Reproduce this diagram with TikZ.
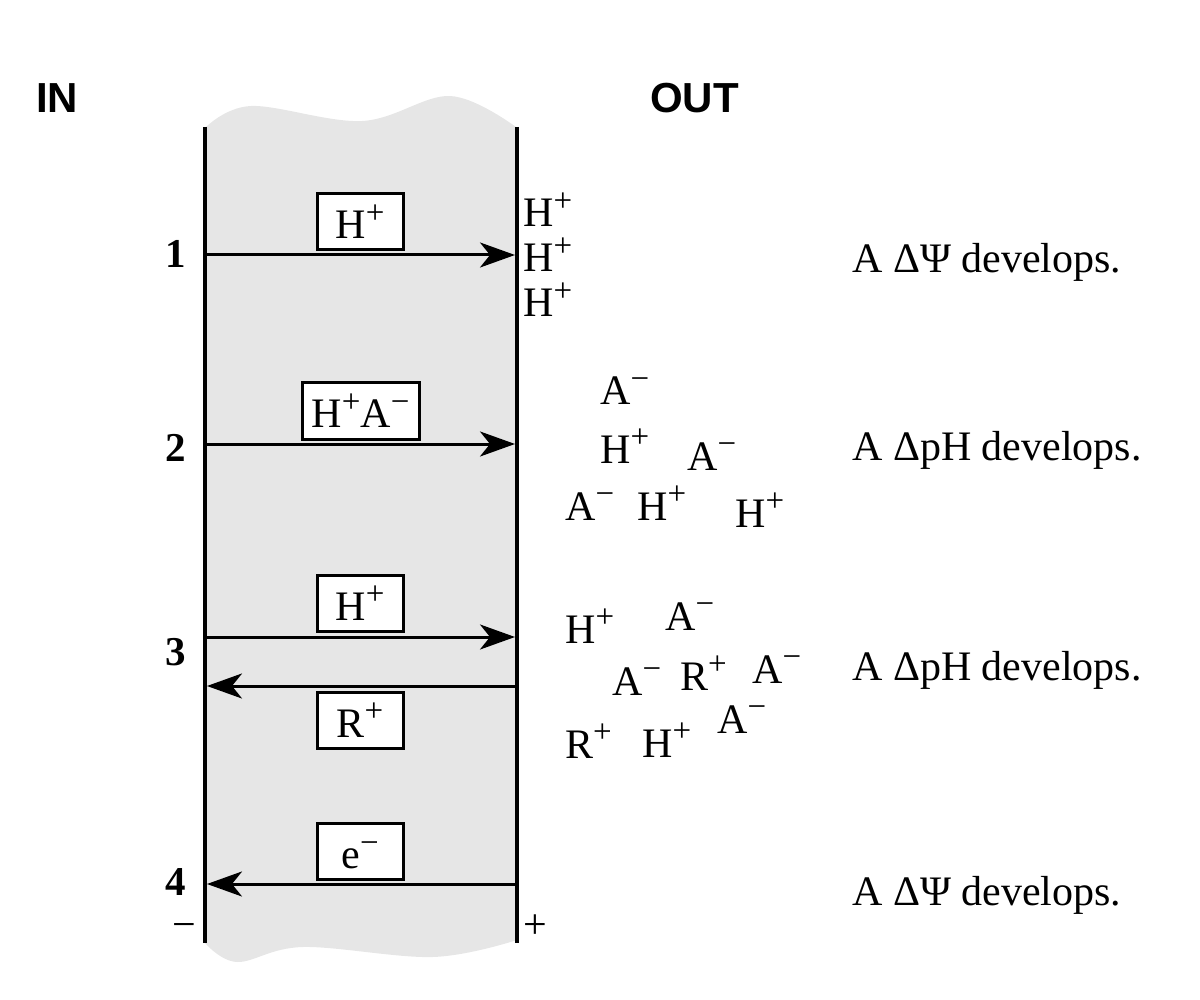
\documentclass[tikz,border=0pt]{standalone}
\usepackage{fontspec}
\setmainfont{Liberation Serif}
\newfontfamily\sanshead{Liberation Sans}
\usetikzlibrary{arrows.meta}
\newcommand\upc[1]{\raisebox{0.36em}{\fontsize{33}{33}\selectfont #1}}
\definecolor{membfill}{HTML}{E6E6E6}
\tikzset{
  txt/.style={font=\fontsize{42}{48}\selectfont, inner sep=0pt},
  num/.style={font=\fontsize{41}{48}\selectfont\bfseries, inner sep=0pt, anchor=base east},
  head/.style={font=\fontsize{42}{48}\selectfont\sanshead\bfseries, inner sep=0pt, anchor=base west},
  ion/.style={txt, anchor=base west},
  note/.style={txt, anchor=base west},
  ionbox/.style={draw, line width=3pt, fill=white, minimum width=86pt, minimum height=56pt,
    text height=34pt, text depth=0pt, inner sep=0pt, font=\fontsize{42}{48}\selectfont},
  memb/.style={line width=4pt},
  flow/.style={line width=3pt, -{Stealth[length=35pt,width=25pt,inset=10pt]}},
}
\begin{document}
\begin{tikzpicture}[x=1pt,y=-1pt]
\useasboundingbox (0,0) rectangle (1200,1000);
% membrane fill
\fill[membfill] plot[smooth, tension=0.6] coordinates {(205,128) (251,106) (362,121) (450,96) (516,127)}
  -- (517,940)
  -- plot[smooth, tension=0.6] coordinates {(517,940) (433,957) (303,947) (237,962) (205,943)} -- cycle;
% membrane lines
\coordinate (Ltop) at (205,127);
\coordinate (Lbot) at (205,943);
\coordinate (Rtop) at (517,127);
\coordinate (Rbot) at (517,943);
\draw[memb] (Ltop) -- (Lbot);
\draw[memb] (Rtop) -- (Rbot);
% headings
\node[head] (in) at (36,113) {IN};
\node[head] (out) at (650,113) {OUT};
% row numbers
\node[num] (n1) at (186,268) {1};
\node[num] (n2) at (186,461) {2};
\node[num] (n3) at (186,665) {3};
\node[num] (n4) at (186,895) {4};
\node[txt, anchor=base east] (minus) at (196,938) {−};
\node[txt, anchor=base west] (plus) at (523,938) {+};
% arrow coordinates
\coordinate (a1s) at (205,255); \coordinate (a1e) at (515,255);
\coordinate (a2s) at (205,444); \coordinate (a2e) at (515,444);
\coordinate (a3s) at (205,637); \coordinate (a3e) at (515,637);
\coordinate (a4s) at (517,686); \coordinate (a4e) at (207,686);
\coordinate (a5s) at (517,884); \coordinate (a5e) at (207,884);
\draw[flow] (a1s) -- (a1e);
\draw[flow] (a2s) -- (a2e);
\draw[flow] (a3s) -- (a3e);
\draw[flow] (a4s) -- (a4e);
\draw[flow] (a5s) -- (a5e);
% boxes
\node[ionbox] (b1) at (360,221.5) {H\upc{+}};
\node[ionbox, minimum width=117pt] (b2) at (360.5,411) {H\upc{+}A\upc{−}};
\node[ionbox] (b3) at (360,603) {H\upc{+}};
\node[ionbox] (b4) at (360,720) {R\upc{+}};
\node[ionbox] (b5) at (360,851.5) {e\upc{−}};
% ions row 1
\node[ion] (s1) at (523,227) {H\upc{+}};
\node[ion] (s2) at (523,272) {H\upc{+}};
\node[ion] (s3) at (523,317) {H\upc{+}};
% ions row 2
\node[ion] (p1) at (600,405) {A\upc{−}};
\node[ion] (p2) at (600,463) {H\upc{+}};
\node[ion] (p3) at (687,470) {A\upc{−}};
\node[ion] (p4) at (565,520) {A\upc{−}};
\node[ion] (p5) at (637,520) {H\upc{+}};
\node[ion] (p6) at (735,527) {H\upc{+}};
% ions row 3
\node[ion] (q1) at (565,643) {H\upc{+}};
\node[ion] (q2) at (665,630) {A\upc{−}};
\node[ion] (q3) at (612,695) {A\upc{−}};
\node[ion] (q4) at (680,690) {R\upc{+}};
\node[ion] (q5) at (752,683) {A\upc{−}};
\node[ion] (q6) at (717,733) {A\upc{−}};
\node[ion] (q7) at (565,758) {R\upc{+}};
\node[ion] (q8) at (642,757) {H\upc{+}};
% notes
\node[note] (t1) at (852,273) {A ΔΨ develops.};
\node[note] (t2) at (852,460) {A ΔpH develops.};
\node[note] (t3) at (852,680) {A ΔpH develops.};
\node[note] (t4) at (852,905) {A ΔΨ develops.};
\end{tikzpicture}
\end{document}
